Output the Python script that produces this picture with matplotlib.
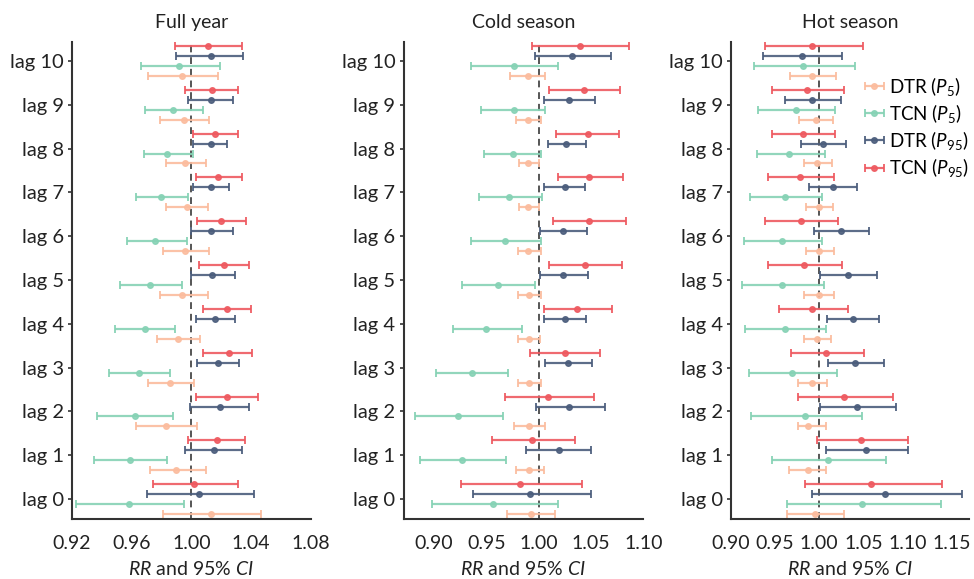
import numpy as np
import matplotlib
matplotlib.use("Agg")
import matplotlib.pyplot as plt

plt.rcParams['font.family'] = ['Lato', 'DejaVu Sans']
plt.rcParams['mathtext.fontset'] = 'custom'
plt.rcParams['mathtext.rm'] = 'Lato'
plt.rcParams['mathtext.it'] = 'Lato:italic'

lags = list(range(11))
lag_labels = ["lag %d" % i for i in lags]

# Full year (lag 0 .. lag 10): RR, lower, upper
full_dtr5 = [1.013, 0.990, 0.983, 0.986, 0.991, 0.994, 0.996, 0.997, 0.996, 0.995, 0.994]
full_dtr5_lo = [0.981, 0.972, 0.963, 0.971, 0.977, 0.979, 0.981, 0.983, 0.983, 0.979, 0.971]
full_dtr5_hi = [1.047, 1.010, 1.004, 1.002, 1.006, 1.011, 1.012, 1.011, 1.010, 1.012, 1.018]
full_tcn5 = [0.958, 0.959, 0.962, 0.965, 0.969, 0.972, 0.976, 0.980, 0.984, 0.988, 0.992]
full_tcn5_lo = [0.923, 0.935, 0.937, 0.945, 0.949, 0.952, 0.957, 0.963, 0.968, 0.969, 0.966]
full_tcn5_hi = [0.995, 0.984, 0.988, 0.986, 0.989, 0.994, 0.997, 0.998, 1.001, 1.008, 1.019]
full_dtr95 = [1.005, 1.015, 1.019, 1.018, 1.016, 1.014, 1.013, 1.013, 1.013, 1.013, 1.013]
full_dtr95_lo = [0.970, 0.996, 0.999, 1.004, 1.003, 1.000, 1.000, 1.001, 1.001, 0.998, 0.990]
full_dtr95_hi = [1.042, 1.034, 1.039, 1.032, 1.029, 1.029, 1.028, 1.025, 1.024, 1.028, 1.035]
full_tcn95 = [1.002, 1.017, 1.024, 1.025, 1.024, 1.022, 1.020, 1.018, 1.016, 1.014, 1.011]
full_tcn95_lo = [0.974, 0.998, 1.003, 1.008, 1.008, 1.005, 1.004, 1.003, 1.001, 0.996, 0.989]
full_tcn95_hi = [1.031, 1.036, 1.045, 1.041, 1.040, 1.039, 1.037, 1.034, 1.031, 1.031, 1.034]

# Cold season
cold_dtr5 = [0.993, 0.991, 0.991, 0.991, 0.991, 0.991, 0.990, 0.990, 0.990, 0.990, 0.990]
cold_dtr5_lo = [0.970, 0.978, 0.976, 0.980, 0.980, 0.980, 0.980, 0.981, 0.981, 0.978, 0.973]
cold_dtr5_hi = [1.016, 1.005, 1.006, 1.002, 1.001, 1.002, 1.002, 1.000, 1.000, 1.002, 1.006]
cold_tcn5 = [0.956, 0.927, 0.923, 0.936, 0.950, 0.961, 0.968, 0.972, 0.975, 0.976, 0.976]
cold_tcn5_lo = [0.898, 0.887, 0.882, 0.902, 0.918, 0.927, 0.935, 0.943, 0.948, 0.945, 0.935]
cold_tcn5_hi = [1.018, 0.969, 0.966, 0.971, 0.984, 0.996, 1.002, 1.003, 1.002, 1.006, 1.018]
cold_dtr95 = [0.992, 1.019, 1.029, 1.028, 1.025, 1.023, 1.023, 1.025, 1.026, 1.029, 1.032]
cold_dtr95_lo = [0.937, 0.988, 0.997, 1.006, 1.005, 1.001, 1.001, 1.005, 1.009, 1.005, 0.996]
cold_dtr95_hi = [1.050, 1.050, 1.063, 1.051, 1.045, 1.047, 1.046, 1.044, 1.045, 1.054, 1.069]
cold_tcn95 = [0.982, 0.994, 1.009, 1.025, 1.037, 1.044, 1.048, 1.048, 1.047, 1.043, 1.039]
cold_tcn95_lo = [0.926, 0.955, 0.968, 0.992, 1.005, 1.010, 1.014, 1.018, 1.017, 1.010, 0.994]
cold_tcn95_hi = [1.041, 1.035, 1.053, 1.059, 1.070, 1.080, 1.083, 1.081, 1.077, 1.078, 1.086]

# Hot season
hot_dtr5 = [0.995, 0.987, 0.987, 0.992, 0.997, 1.000, 1.000, 1.000, 0.998, 0.996, 0.992]
hot_dtr5_lo = [0.963, 0.966, 0.976, 0.976, 0.983, 0.983, 0.985, 0.985, 0.983, 0.977, 0.967]
hot_dtr5_hi = [1.028, 1.008, 1.008, 1.009, 1.013, 1.017, 1.017, 1.016, 1.014, 1.015, 1.019]
hot_tcn5 = [1.048, 1.010, 0.984, 0.969, 0.961, 0.958, 0.958, 0.961, 0.966, 0.974, 0.982]
hot_tcn5_lo = [0.964, 0.947, 0.923, 0.920, 0.916, 0.913, 0.915, 0.921, 0.929, 0.931, 0.926]
hot_tcn5_hi = [1.138, 1.076, 1.048, 1.020, 1.008, 1.005, 1.003, 1.003, 1.006, 1.018, 1.040]
hot_dtr95 = [1.074, 1.053, 1.043, 1.041, 1.038, 1.033, 1.025, 1.015, 1.004, 0.992, 0.980]
hot_dtr95_lo = [0.992, 1.008, 1.001, 1.010, 1.009, 1.001, 0.994, 0.988, 0.979, 0.961, 0.936]
hot_dtr95_hi = [1.162, 1.100, 1.087, 1.073, 1.068, 1.065, 1.056, 1.043, 1.030, 1.025, 1.026]
hot_tcn95 = [1.059, 1.047, 1.028, 1.008, 0.992, 0.983, 0.979, 0.978, 0.982, 0.986, 0.992]
hot_tcn95_lo = [0.984, 0.997, 0.976, 0.968, 0.954, 0.942, 0.938, 0.942, 0.946, 0.946, 0.938]
hot_tcn95_hi = [1.139, 1.100, 1.084, 1.051, 1.033, 1.026, 1.021, 1.017, 1.018, 1.028, 1.050]

series_names = [r'DTR ($\mathit{P}_{\mathit{5}}$)', r'TCN ($\mathit{P}_{\mathit{5}}$)',
                r'DTR ($\mathit{P}_{\mathit{95}}$)', r'TCN ($\mathit{P}_{\mathit{95}}$)']
colors = ['#FBBC9E', '#86D2B5', '#4B5D7C', '#EE5A60']
offsets = [-0.34, -0.113, 0.113, 0.34]

panels = [
    ("Full year", (0.92, 1.08), [0.92, 0.96, 1.00, 1.04, 1.08],
     [(full_dtr5, full_dtr5_lo, full_dtr5_hi), (full_tcn5, full_tcn5_lo, full_tcn5_hi),
      (full_dtr95, full_dtr95_lo, full_dtr95_hi), (full_tcn95, full_tcn95_lo, full_tcn95_hi)]),
    ("Cold season", (0.871, 1.10), [0.90, 0.95, 1.00, 1.05, 1.10],
     [(cold_dtr5, cold_dtr5_lo, cold_dtr5_hi), (cold_tcn5, cold_tcn5_lo, cold_tcn5_hi),
      (cold_dtr95, cold_dtr95_lo, cold_dtr95_hi), (cold_tcn95, cold_tcn95_lo, cold_tcn95_hi)]),
    ("Hot season", (0.90, 1.17), [0.90, 0.95, 1.00, 1.05, 1.10, 1.15],
     [(hot_dtr5, hot_dtr5_lo, hot_dtr5_hi), (hot_tcn5, hot_tcn5_lo, hot_tcn5_hi),
      (hot_dtr95, hot_dtr95_lo, hot_dtr95_hi), (hot_tcn95, hot_tcn95_lo, hot_tcn95_hi)]),
]

axes_left = [0.0739, 0.4145, 0.7505]
axes_width = [0.245, 0.246, 0.2447]

fig = plt.figure(figsize=(9.74, 5.79), dpi=100)

handles = []
for k, (title, xlim, xticks, series) in enumerate(panels):
    ax = fig.add_axes([axes_left[k], 0.1031, axes_width[k], 0.825])
    ax.axvline(1.0, color='#555555', linestyle=(0, (3.5, 2.5)), linewidth=1.4, zorder=1)
    for j, (rr, lo, hi) in enumerate(series):
        rr = np.array(rr)
        y = np.array(lags) + offsets[j]
        err = [rr - np.array(lo), np.array(hi) - rr]
        h = ax.errorbar(rr, y, xerr=err, fmt='o', color=colors[j], ecolor=colors[j],
                        markersize=4.0, elinewidth=1.6, capsize=2.6, capthick=1.4,
                        alpha=0.9, zorder=2)
        if k == 0:
            handles.append(h)
    ax.set_xlim(*xlim)
    ax.set_ylim(-0.46, 10.44)
    ax.set_xticks(xticks)
    ax.set_xticklabels(["%.2f" % t for t in xticks], fontsize=14, color='#222222')
    ax.set_yticks(lags)
    ax.set_yticklabels(lag_labels, fontsize=14.5, color='#222222')
    ax.tick_params(axis='x', length=0, pad=11)
    ax.tick_params(axis='y', length=3, width=1.2, color='#333333', pad=3)
    ax.spines['top'].set_visible(False)
    ax.spines['right'].set_visible(False)
    for s in ['left', 'bottom']:
        ax.spines[s].set_linewidth(1.5)
        ax.spines[s].set_color('#333333')
    ax.set_title(title, fontsize=14, color='#222222', pad=10)
    ax.set_xlabel(r'$\mathit{RR}$ and 95% $\mathit{CI}$', fontsize=14, color='#222222', labelpad=6)

leg = fig.legend(handles, series_names, loc='upper left', bbox_to_anchor=(0.888, 0.871),
                 frameon=False, fontsize=13.5, handlelength=1.0, handletextpad=0.3,
                 labelspacing=0.22, borderaxespad=0, borderpad=0)

fig.savefig("out.png", dpi=100)
